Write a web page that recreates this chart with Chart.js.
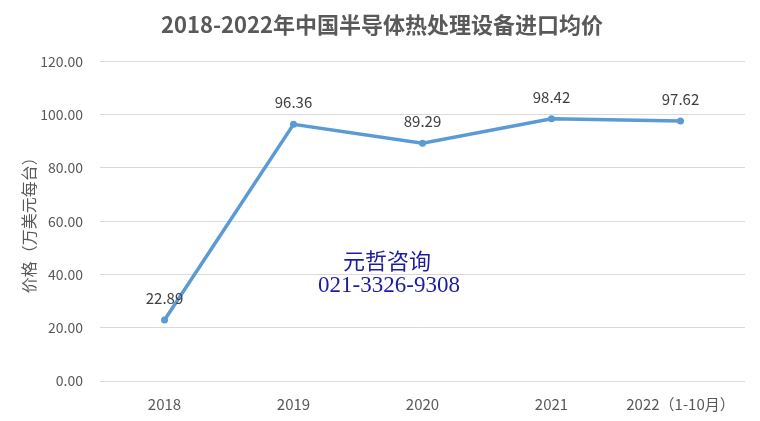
<!DOCTYPE html>
<html>
<head>
<meta charset="utf-8">
<script src="https://cdn.jsdelivr.net/npm/chart.js@4/dist/chart.umd.min.js"></script>
<style>
	html, body { margin: 0; padding: 0; background: #fff; }
	#wrap { width: 760px; height: 421px; }
</style>
</head>
<body>
<div id="wrap"><canvas id="priceChart"></canvas></div>
<script>
const years = ['2018', '2019', '2020', '2021', '2022（1-10月）'];
const avgPrice = [22.89, 96.36, 89.29, 98.42, 97.62];
const yTicks = [0, 20, 40, 60, 80, 100, 120];

const cjk = '"Microsoft YaHei", "Noto Sans CJK SC", sans-serif';

// value labels above each point
const pointLabels = {
	id: 'pointLabels',
	afterDatasetsDraw(chart) {
		const ctx = chart.ctx;
		const meta = chart.getDatasetMeta(0);
		ctx.save();
		ctx.fillStyle = '#404040';
		ctx.font = '15px ' + cjk;
		ctx.textAlign = 'center';
		ctx.textBaseline = 'middle';
		meta.data.forEach((pt, i) => {
			ctx.fillText(avgPrice[i].toFixed(2), pt.x, pt.y - 22);
		});
		ctx.restore();
	}
};

// company stamp in the middle of the plot
const stamp = {
	id: 'stamp',
	afterDraw(chart) {
		const ctx = chart.ctx;
		ctx.save();
		ctx.fillStyle = '#1c1ca0';
		ctx.textAlign = 'center';
		ctx.textBaseline = 'middle';
		ctx.font = '22px "Noto Sans CJK SC", serif';
		ctx.fillText('元哲咨询', 387, 261);
		ctx.font = '23px "Liberation Serif", serif';
		ctx.fillText('021-3326-9308', 389, 286);
		ctx.restore();
	}
};

new Chart(document.getElementById('priceChart').getContext('2d'), {
	type: 'line',
	data: {
		labels: years,
		datasets: [
			{
				data: avgPrice,
				borderColor: '#5b9bd5',
				backgroundColor: '#5b9bd5',
				borderWidth: 3.5,
				pointRadius: 3.5,
				pointBorderWidth: 0,
				tension: 0,
			},
		],
	},
	options: {
		responsive: true,
		maintainAspectRatio: false,
		animation: false,
		layout: { padding: { left: 19, right: 15, top: 0, bottom: -6 } },
		plugins: {
			legend: { display: false },
			tooltip: { enabled: false },
			title: {
				display: true,
				text: '2018-2022年中国半导体热处理设备进口均价',
				color: '#595959',
				font: { family: cjk, size: 22, weight: 'bold' },
				padding: { top: 11, bottom: 24 },
			},
		},
		scales: {
			x: {
				offset: true,
				grid: { display: false, drawTicks: false },
				border: { display: false },
				ticks: { color: '#595959', font: { family: cjk, size: 15 }, padding: 14, maxRotation: 0 },
			},
			y: {
				min: 0,
				max: 120,
				afterBuildTicks(axis) {
					axis.ticks = yTicks.map(v => ({ value: v }));
				},
				afterFit(axis) {
					axis.width = 81;
				},
				grid: { color: '#d9d9d9', drawTicks: false },
				border: { display: false },
				ticks: {
					color: '#595959',
					font: { family: cjk, size: 14 },
					padding: 17,
					callback: v => v.toFixed(2),
				},
				title: {
					display: true,
					text: '价格（万美元每台）',
					color: '#595959',
					font: { family: cjk, size: 16 },
					padding: { top: 0, bottom: 0 },
				},
			},
		},
	},
	plugins: [pointLabels, stamp],
});
</script>
</body>
</html>
